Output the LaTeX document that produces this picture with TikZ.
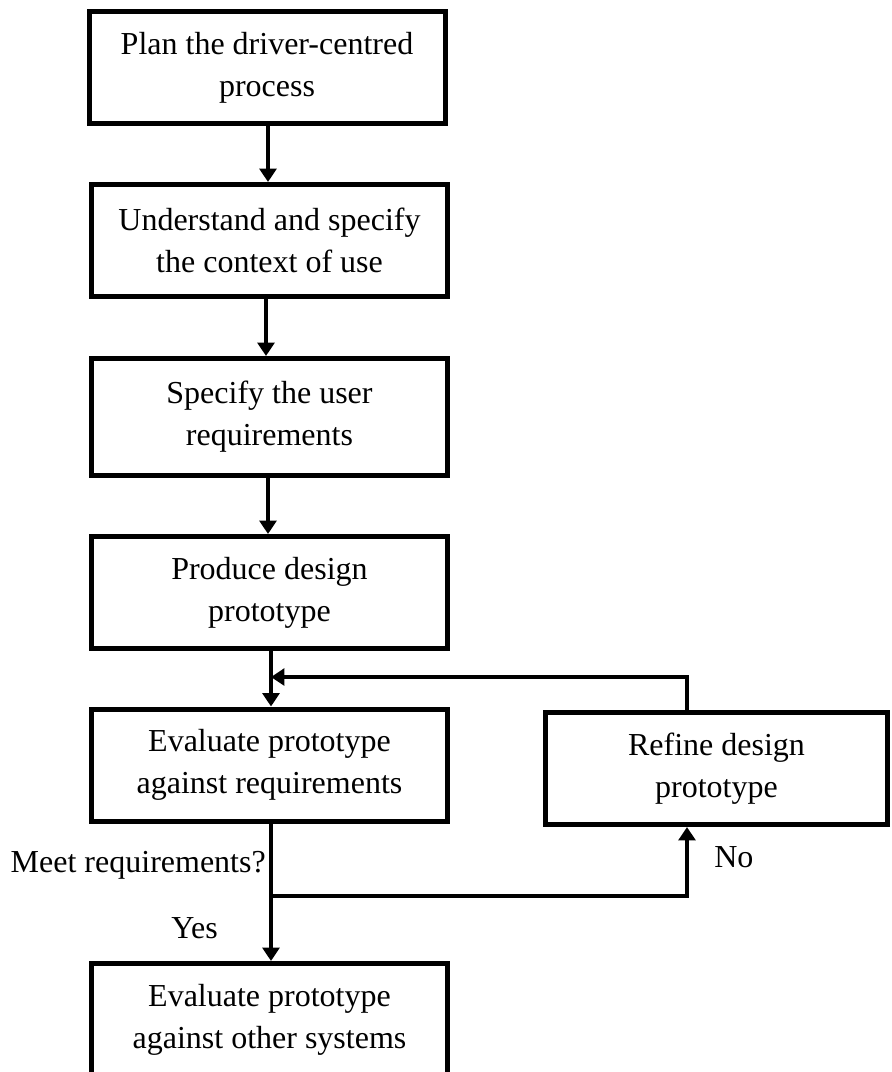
\documentclass[tikz,border=0pt]{standalone}
\usepackage{fontspec}
\setmainfont{Liberation Serif}
\usetikzlibrary{arrows.meta,positioning}

\begin{document}
\begin{tikzpicture}[x=0.75pt,y=-0.75pt,>={Triangle[length=10pt,width=12.5pt]},
  box/.style={draw,line width=3.75pt,minimum width=267pt,minimum height=84pt,
              inner sep=0pt,align=center,font=\fontsize{24}{31.5}\selectfont},
  flow/.style={->,line width=3pt},
  lbl/.style={inner sep=0pt,font=\fontsize{24}{31.5}\selectfont}]
  \useasboundingbox (0,0) rectangle (892,1072);
  \node[box] (plan) at (267,67.5) {Plan the driver-centred\\process};
  \node[box] (context) at (269.5,240.5) {Understand and specify\\the context of use};
  \node[box,minimum height=87.75pt] (req) at (269.5,417) {Specify the user\\requirements};
  \node[box] (proto) at (269.5,592.5) {Produce design\\prototype};
  \node[box] (eval) at (269.5,765) {Evaluate prototype\\against requirements};
  \node[box,minimum width=256.5pt] (refine) at (716.5,768.5) {Refine design\\prototype};
  \node[box] (other) at (269.5,1019.5) {Evaluate prototype\\against other systems};
  \coordinate (back) at (687,677);
  \coordinate (split) at (271,896);
  % main column
  \draw[flow] (268,0 |- plan.south) -- (268,0 |- context.north);
  \draw[flow] (266,0 |- context.south) -- (266,0 |- req.north);
  \draw[flow] (268,0 |- req.south) -- (268,0 |- proto.north);
  \draw[flow] (split |- proto.south) -- (split |- eval.north);
  \draw[flow] (split |- eval.south) -- (split |- other.north);
  % loop back
  \draw[flow] (split) -| (back |- refine.south);
  \draw[flow] (back |- refine.north) -- (back) -- (split |- back);
  \node[lbl,anchor=base east] (meet) at (266,872) {Meet requirements?};
  \node[lbl,anchor=base west] (no) at (714,867) {No};
  \node[lbl,anchor=base west] (yes) at (171,938) {Yes};
\end{tikzpicture}
\end{document}
